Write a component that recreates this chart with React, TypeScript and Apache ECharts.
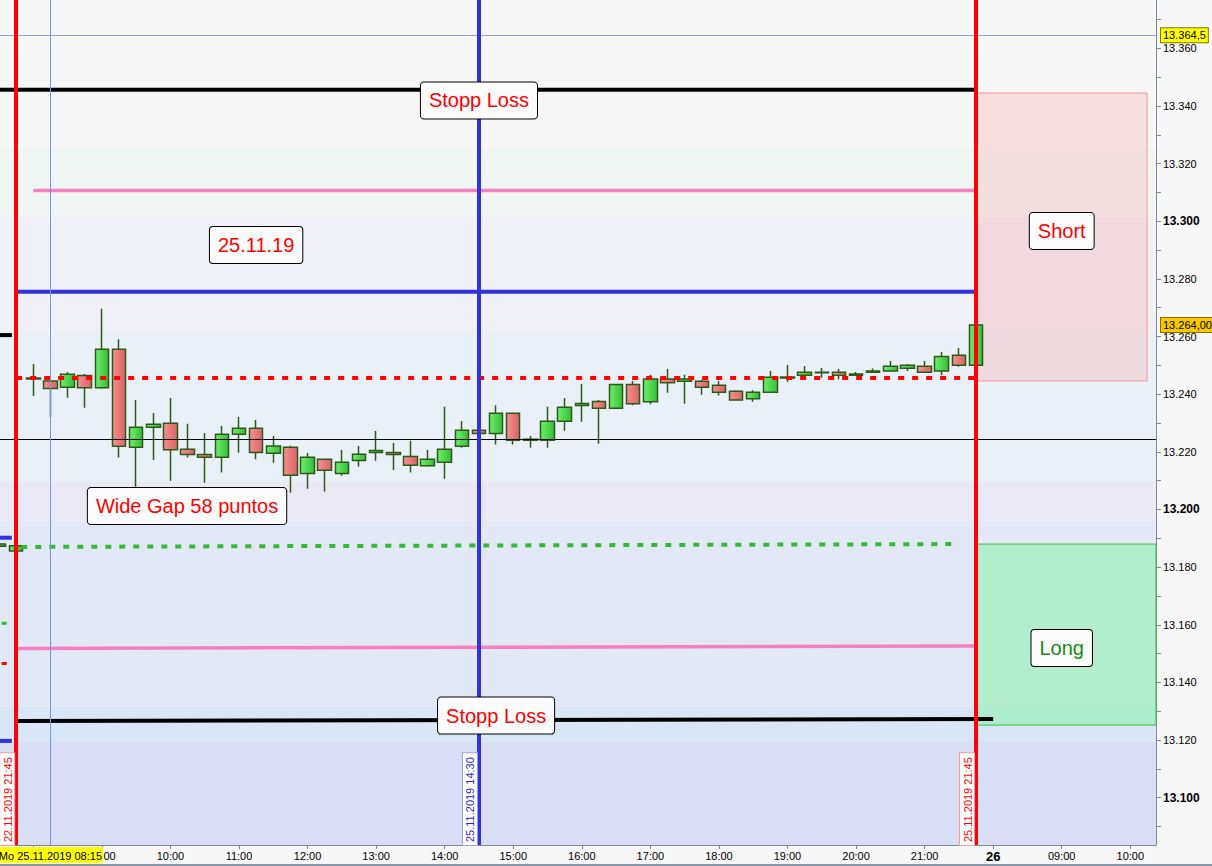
import React, { useEffect, useRef } from "react";
import * as echarts from "echarts";

// ---------- time slots (15 min candles) ----------
const pad = (n: number) => String(n).padStart(2, "0");
function slots(day: string, fromMin: number, toMin: number): string[] {
  const out: string[] = [];
  for (let m = fromMin; m <= toMin; m += 15) out.push(`${day} ${pad(Math.floor(m / 60))}:${pad(m % 60)}`);
  return out;
}
const prevDaySlots = slots("22.11", 21 * 60 + 30, 21 * 60 + 45);
const daySlots = slots("25.11", 8 * 60, 21 * 60 + 45);
const nextDaySlots = slots("26.11", 8 * 60, 10 * 60 + 15);
const categories = [...prevDaySlots, ...daySlots, ...nextDaySlots];

// ---------- candles [open, close, low, high] ----------
const prevDayCandles = [
  [13187.2, 13188.0, 13186.6, 13188.6],
  [13185.6, 13187.4, 13185.2, 13187.8],
];
const dayCandles = [
  [13245.3, 13245.6, 13239.4, 13250.5],
  [13244.6, 13242.0, 13232.1, 13245.0],
  [13242.4, 13246.9, 13238.8, 13247.7],
  [13246.5, 13242.2, 13235.3, 13247.0],
  [13242.2, 13255.6, 13241.9, 13269.6],
  [13255.6, 13221.9, 13218.0, 13259.1],
  [13221.6, 13228.5, 13207.9, 13238.0],
  [13228.5, 13229.6, 13217.2, 13233.5],
  [13229.9, 13220.7, 13210.0, 13238.7],
  [13220.9, 13219.1, 13218.0, 13229.7],
  [13219.1, 13218.1, 13209.3, 13226.5],
  [13218.1, 13226.1, 13212.8, 13229.0],
  [13226.1, 13228.2, 13219.7, 13232.1],
  [13228.2, 13219.8, 13217.4, 13231.0],
  [13219.5, 13222.0, 13216.2, 13225.5],
  [13221.6, 13211.9, 13205.8, 13222.1],
  [13212.5, 13218.1, 13207.2, 13219.6],
  [13217.4, 13213.6, 13206.2, 13217.6],
  [13212.5, 13216.4, 13211.7, 13220.6],
  [13217.0, 13219.2, 13214.8, 13222.0],
  [13219.8, 13220.5, 13216.9, 13227.2],
  [13219.8, 13219.1, 13213.7, 13223.1],
  [13218.4, 13215.3, 13212.8, 13223.8],
  [13215.2, 13217.4, 13214.8, 13220.6],
  [13216.4, 13220.9, 13210.7, 13235.6],
  [13221.9, 13227.5, 13221.4, 13230.7],
  [13227.5, 13226.4, 13226.0, 13228.0],
  [13226.4, 13233.4, 13222.5, 13236.2],
  [13233.4, 13224.0, 13222.5, 13233.6],
  [13224.0, 13224.4, 13221.4, 13225.5],
  [13224.0, 13230.6, 13221.4, 13235.6],
  [13230.6, 13235.5, 13227.3, 13238.7],
  [13236.1, 13236.8, 13230.4, 13243.5],
  [13237.5, 13235.1, 13222.8, 13238.0],
  [13235.1, 13243.4, 13235.0, 13243.6],
  [13243.4, 13236.7, 13236.2, 13244.6],
  [13237.4, 13245.3, 13236.5, 13246.7],
  [13245.3, 13244.0, 13240.5, 13248.7],
  [13244.5, 13245.3, 13236.7, 13246.7],
  [13244.5, 13242.4, 13239.8, 13245.0],
  [13243.1, 13240.7, 13239.5, 13244.6],
  [13241.0, 13238.0, 13237.9, 13241.4],
  [13238.4, 13240.7, 13237.4, 13241.4],
  [13240.7, 13245.9, 13240.6, 13248.0],
  [13245.6, 13246.0, 13244.3, 13250.1],
  [13246.6, 13247.6, 13246.5, 13249.8],
  [13247.4, 13247.6, 13245.7, 13249.1],
  [13247.6, 13246.6, 13245.2, 13248.7],
  [13246.6, 13247.0, 13246.5, 13247.7],
  [13247.6, 13248.0, 13247.5, 13248.9],
  [13248.0, 13249.7, 13247.9, 13251.5],
  [13249.0, 13250.0, 13248.0, 13250.5],
  [13249.7, 13247.6, 13247.5, 13251.5],
  [13248.0, 13253.1, 13246.6, 13254.6],
  [13253.5, 13250.0, 13249.5, 13256.0],
  [13250.0, 13264.0, 13249.9, 13264.1],
];

// ---------- price scale ----------
const priceMin = 13083.59;
const priceMax = 13376.76;
const tickValues = [13090, 13100, 13110, 13120, 13130, 13140, 13150, 13160, 13170, 13180, 13190, 13200, 13210, 13220, 13230, 13240, 13250, 13260, 13270, 13280, 13290, 13300, 13310, 13320, 13330, 13340, 13350, 13360, 13370];
const labelValues = [13100, 13120, 13140, 13160, 13180, 13200, 13220, 13240, 13260, 13280, 13300, 13320, 13340, 13360];

// ---------- background zones [from, to] ----------
const zoneBounds = [13083.59, 13119.3, 13131.5, 13196.3, 13209.5, 13261.2, 13301.5, 13325.4, 13376.76];
const zoneColors = ["#d9def5", "#d9e6f5", "#e2e8f5", "#ebe8f6", "#e9f0f7", "#eff0f8", "#f0f6f4", "#f7f7f7"];

// ---------- drawn levels (x in candle index of 25.11, 0 = 08:00) ----------
const stopLossUpper = 13345.6;
const targetUpper = 13310.7;
const blueUpper = 13275.5;
const prevBlack = 13260.5;
const gapOpen = 13245.6;
const midLine = 13224.4;
const prevBlue = 13190.2;
const gapClose = [13187.0, 13188.0];
const prevGreen = 13160.5;
const targetLower = [13151.8, 13152.6];
const prevRed = 13146.6;
const stopLossLower = [13126.6, 13127.3];
const prevBlueLow = 13119.7;
const lastPriceMark = 13264.0;
const highMark = 13364.5;

// time marks (index)
const prevSessionEnd = -1;
const markerSlot = 1;
const midSession = 26;
const sessionEnd = 55;
const stopLowerEnd = 56;
const gapLineEnd = 53.9;

// zones (Short / Long)
const shortZone = { x0: 55, x1: 64.98, top: 13344.5, bottom: 13244.6 };
const longZone = { x0: 55, x1: 65.5, top: 13188.0, bottom: 13125.2 };

// annotation notes
const noteTexts = ["Stopp Loss", "25.11.19", "Short", "Wide Gap 58 puntos", "Stopp Loss", "Long"];
const noteX = [26, 13, 60, 8.97, 27, 60];
const noteY = [13341.9, 13291.8, 13296.6, 13201.2, 13128.5, 13151.9];
const noteColors = ["#ff0000", "#ff0000", "#ff0000", "#ff0000", "#ff0000", "#188a18"];

const FONT = "'Liberation Sans', Arial, sans-serif";
const xMin = -2.5;
const xMax = 65.5;
const leftEdge = -2.6;
const leftStub = -1.25;

function fmtPrice(v: number) {
  return (v / 1000).toFixed(3);
}

// hourly labels, from 09:00 of 25.11 on (08:00 sits under the date flag)
function isHour(index: number, value: string) {
  return index >= 3 && value.endsWith(":00");
}
function isHourTick(index: number, value: string) {
  return index >= 2 && value.endsWith(":00");
}

function lineSeries(x0: number, y0: number, x1: number, y1: number, color: string, width: number, type: any = "solid") {
  return {
    type: "line",
    xAxisIndex: 1,
    yAxisIndex: 0,
    silent: true,
    symbol: "none",
    z: 4,
    animation: false,
    data: [[x0, y0], [x1, y1]],
    lineStyle: { color, width, type },
  };
}

function rotLabel(text: string, color: string, border: string) {
  return {
    show: true,
    position: "insideStartTop",
    formatter: text,
    color,
    fontSize: 11,
    fontFamily: FONT,
    backgroundColor: "#ffffff",
    borderColor: border,
    borderWidth: 1,
    padding: [2, 4, 1, 3],
    distance: [0, 2],
  };
}

function buildOption() {
  const greenGrad = {
    type: "linear", x: 0, y: 0, x2: 1, y2: 0,
    colorStops: [{ offset: 0, color: "#6cf06c" }, { offset: 1, color: "#38bd38" }],
  };
  const redGrad = {
    type: "linear", x: 0, y: 0, x2: 1, y2: 0,
    colorStops: [{ offset: 0, color: "#f79090" }, { offset: 1, color: "#d96464" }],
  };

  const bands = zoneColors.map((c, i) => [
    { yAxis: zoneBounds[i], itemStyle: { color: c } },
    { yAxis: zoneBounds[i + 1] },
  ]);

  const series: any[] = [
    {
      type: "line",
      xAxisIndex: 1,
      yAxisIndex: 0,
      data: [],
      silent: true,
      z: 0,
      markArea: { silent: true, z: 0, data: bands },
    },
    {
      type: "line",
      xAxisIndex: 1,
      yAxisIndex: 0,
      data: [],
      silent: true,
      z: 1,
      markArea: {
        silent: true,
        z: 1,
        data: [
          [
            { coord: [shortZone.x0, shortZone.top], itemStyle: { color: "rgba(250,165,165,0.3)", borderColor: "#f29a9a", borderWidth: 1 } },
            { coord: [shortZone.x1, shortZone.bottom] },
          ],
          [
            { coord: [longZone.x0, longZone.top], itemStyle: { color: "rgba(120,245,160,0.45)", borderColor: "#3cc03c", borderWidth: 1 } },
            { coord: [longZone.x1, longZone.bottom] },
          ],
        ],
      },
    },
    {
      type: "candlestick",
      name: "DAX",
      xAxisIndex: 0,
      yAxisIndex: 0,
      data: [...prevDayCandles, ...dayCandles],
      barWidth: 14,
      z: 3,
      silent: true,
      itemStyle: {
        color: greenGrad,
        color0: redGrad,
        borderColor: "#2d5a1b",
        borderColor0: "#2d5a1b",
        borderWidth: 1.5,
      },
    },
    lineSeries(leftEdge, stopLossUpper, sessionEnd, stopLossUpper, "#000000", 4),
    lineSeries(0, targetUpper, sessionEnd, targetUpper, "#f57fbf", 3.5),
    lineSeries(prevSessionEnd, blueUpper, sessionEnd, blueUpper, "#3333dd", 4),
    lineSeries(leftEdge, prevBlack, leftStub, prevBlack, "#000000", 4),
    lineSeries(prevSessionEnd, gapOpen, sessionEnd, gapOpen, "#ff0000", 4, [6, 8]),
    lineSeries(leftEdge, prevBlue, leftStub, prevBlue, "#3333dd", 4),
    lineSeries(-0.7, gapClose[0], gapLineEnd, gapClose[1], "#33bb33", 4, [6, 8]),
    lineSeries(leftEdge, prevGreen, leftStub, prevGreen, "#33bb33", 3, [5, 8]),
    lineSeries(prevSessionEnd, targetLower[0], sessionEnd, targetLower[1], "#f57fbf", 3.5),
    lineSeries(leftEdge, prevRed, leftStub, prevRed, "#ff0000", 3, [5, 8]),
    lineSeries(prevSessionEnd, stopLossLower[0], stopLowerEnd, stopLossLower[1], "#000000", 4),
    lineSeries(leftEdge, prevBlueLow, leftStub, prevBlueLow, "#3333dd", 4),
    {
      type: "line",
      xAxisIndex: 1,
      yAxisIndex: 0,
      data: [],
      silent: true,
      z: 6,
      markLine: {
        silent: true,
        z: 6,
        symbol: ["none", "none"],
        animation: false,
        data: [
          { yAxis: midLine, lineStyle: { color: "#000000", width: 1, type: "solid" }, label: { show: false } },
          {
            yAxis: highMark,
            lineStyle: { color: "#8ea6e0", width: 1, type: "solid" },
            label: {
              show: true, position: "end", formatter: "13.364,5", color: "#000", fontSize: 11, fontFamily: FONT,
              backgroundColor: "#ffff00", borderColor: "#7a7a00", borderWidth: 1, padding: [2, 2, 1, 2], distance: 5,
            },
          },
          {
            yAxis: lastPriceMark,
            lineStyle: { color: "rgba(0,0,0,0)", width: 1, type: "solid" },
            label: {
              show: true, position: "end", formatter: "13.264,00", color: "#000", fontSize: 11, fontFamily: FONT,
              backgroundColor: "#f8c800", borderColor: "#8a6d00", borderWidth: 1, padding: [2, 2, 1, 2], distance: 5,
            },
          },
          { xAxis: prevSessionEnd, lineStyle: { color: "#ff0000", width: 4, type: "solid" }, label: rotLabel("22.11.2019 21:45", "#ff0000", "#ff9a9a") },
          {
            xAxis: markerSlot,
            lineStyle: { color: "#7397f5", width: 1, type: "solid" },
            label: {
              show: true, position: "start", formatter: "Mo 25.11.2019 08:15", color: "#000", fontSize: 11, fontFamily: FONT,
              backgroundColor: "#ffff00", padding: [3, 1, 2, 1], distance: 2,
            },
          },
          { xAxis: midSession, lineStyle: { color: "#3333dd", width: 4, type: "solid" }, label: rotLabel("25.11.2019 14:30", "#2a2ad0", "#a0a0ea") },
          { xAxis: sessionEnd, lineStyle: { color: "#ff0000", width: 4, type: "solid" }, label: rotLabel("25.11.2019 21:45", "#ff0000", "#ff9a9a") },
        ],
      },
      markPoint: {
        silent: true,
        z: 10,
        symbol: "rect",
        symbolSize: 1,
        itemStyle: { color: "rgba(0,0,0,0)" },
        label: {
          show: true,
          position: "inside",
          formatter: "{b}",
          fontSize: 20,
          fontFamily: FONT,
          color: "#ff0000",
          backgroundColor: "#fbfbfb",
          borderColor: "#000000",
          borderWidth: 1,
          borderRadius: 3,
          padding: [8, 8, 8, 8],
        },
        data: noteTexts.map((t, i) => ({
          name: t,
          coord: [noteX[i], noteY[i]],
          label: { color: noteColors[i] },
        })),
      },
    },
  ];

  return {
    animation: false,
    backgroundColor: "#f7f7f7",
    textStyle: { fontFamily: FONT },
    grid: { left: -9.55, right: 56, top: 0, bottom: 21, containLabel: false, outerBoundsMode: "none" },
    xAxis: [
      {
        type: "category",
        data: categories,
        boundaryGap: true,
        axisLine: { show: true, onZero: false, lineStyle: { color: "#7d8b99", width: 1 } },
        axisTick: { show: true, alignWithLabel: true, interval: isHourTick, length: 4, lineStyle: { color: "#7d8b99" } },
        axisLabel: {
          interval: isHour,
          fontSize: 11,
          color: "#000",
          margin: 5,
          fontFamily: FONT,
          formatter: (v: string) => (v === "26.11 08:00" ? "{b|26}" : v.slice(6)),
          rich: { b: { fontWeight: "bold", fontSize: 13, fontFamily: FONT, color: "#000" } },
        },
        splitLine: { show: false },
      },
      { type: "value", min: xMin, max: xMax, show: false, axisLine: { onZero: false }, splitLine: { show: false } },
    ],
    yAxis: {
      type: "value",
      position: "right",
      min: priceMin,
      max: priceMax,
      splitLine: { show: false },
      axisLine: { show: true, onZero: false, lineStyle: { color: "#7d8b99", width: 1 } },
      axisTick: { show: true, length: 5, customValues: tickValues, lineStyle: { color: "#7d8b99" } },
      axisLabel: {
        customValues: labelValues,
        fontSize: 11,
        color: "#000",
        margin: 7,
        fontFamily: FONT,
        formatter: (v: number) => (Math.round(v) % 100 === 0 ? `{b|${fmtPrice(v)}}` : fmtPrice(v)),
        rich: { b: { fontWeight: "bold", fontSize: 12, fontFamily: FONT, color: "#000" } },
      },
    },
    graphic: [
      { type: "rect", left: 0, bottom: 0, z: 100, shape: { width: 1212, height: 2 }, style: { fill: "#8595a5" } },
    ],
    series,
  };
}

export default function App() {
  const ref = useRef<HTMLDivElement>(null);
  useEffect(() => {
    if (!ref.current) return;
    const chart = echarts.init(ref.current, null, { renderer: "svg" });
    chart.setOption(buildOption() as any);
    return () => chart.dispose();
  }, []);
  return (
    <div
      ref={ref}
      style={{ position: "fixed", left: 0, top: 0, width: 1212, height: 866, background: "#f7f7f7" }}
    />
  );
}
